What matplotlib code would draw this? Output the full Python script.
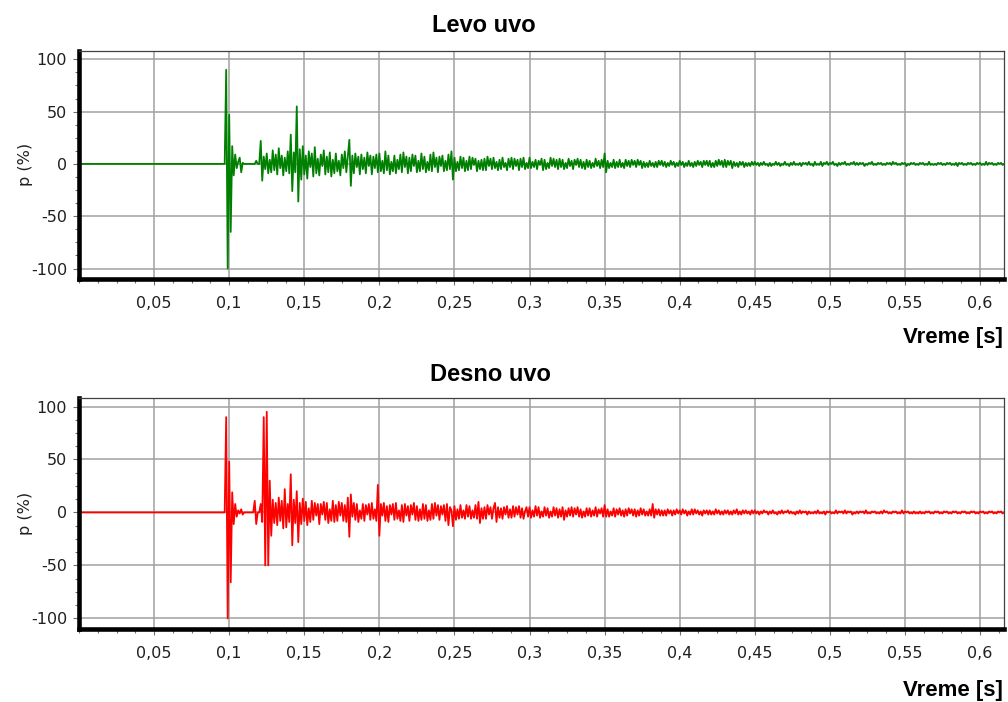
import numpy as np
import matplotlib
matplotlib.use("Agg")
import matplotlib.pyplot as plt
from matplotlib.ticker import MultipleLocator

# sampled pressure (%), one row = 10 ms, 1 ms step, starting at T0
T0 = 0.090
DT = 0.001

LEVO = [
    0, 0, 0, 0, 0, 0, 0, 0, 90, -100,
    47, -65, 17, -11, 9, -4, 2, 6, -8, 1,
    0, 0, 0, 0, 0, 0, 0, 0, 3, 0,
    0, 22, -16, 7, -5, 10, -9, 4, -8, 13,
    -6, 9, -10, 15, -4, 8, -11, 6, -7, 12,
    -9, 28, -26, 11, -8, 55, -36, 14, -15, 17,
    -10, 8, -14, 12, -3, 10, -12, 16, -9, 5,
    -11, 9, -2, 13, -10, 7, -8, 11, -12, 4,
    -9, 10, -7, 3, -11, 9, -4, 12, -8, 7,
    23, -21, 8, -9, 10, -3, 7, -10, 9, -5,
    6, -9, 11, -2, 8, -10, 7, -4, 9, -8,
    10, -7, 3, -9, 12, -6, 8, -10, 2, -7,
    8, -9, 4, -5, 9, -8, 11, -3, 7, -9,
    6, -7, 9, -2, 8, -8, 3, -7, 10, -5,
    7, -8, 2, -6, 9, -7, 11, -3, 6, -8,
    7, -2, 8, -7, 3, -6, 9, -5, 12, -15,
    6, -7, 2, -6, 7, -4, 6, -7, 3, -6,
    7, -5, 6, -1, 5, -7, 3, -5, 4, -6,
    5, -6, 7, -2, 5, -5, 6, -4, 2, -6,
    4, -5, 6, -3, 1, -6, 5, -3, 6, -5,
    5, -2, 4, -6, 5, -3, 6, -5, 1, -4,
    6, -4, 2, -3, 4, -5, 3, -1, 5, -6,
    4, -5, 1, -4, 6, -2, 5, -3, 4, -5,
    5, -3, 4, -5, 1, -4, 5, -2, 3, -5,
    4, -1, 5, -3, 4, -4, 2, -5, 4, -3,
    3, -4, 1, -3, 5, -2, 3, -4, 4, -3,
    10, -8, 3, -4, 1, -3, 4, -4, 2, -3,
    4, -3, 1, -4, 4, -2, 3, -3, 4, -1,
    3, -3, 4, -1, 3, -4, 2, -3, 1, -3,
    3, -2, 1, -3, 2, -3, 3, -1, 3, -2,
    2, -3, 1, -2, 3, -1, 2, -3, 1, -2,
    3, -1, 2, -3, 1, -2, 3, -2, 1, -3,
    2, -2, 3, -1, 2, -3, 3, -1, 3, -2,
    3, -3, 1, -3, 3, -2, 4, -1, 3, -3,
    4, -3, 3, -1, 3, -4, 2, -2, 1, -3,
    2, -1, 2, -3, 1, -2, 1, -2, 2, -1,
    2, -1, 1, -2, 1, -1, 2, -1, 0, -2,
    1, -2, 0, -1, 2, -1, 1, -2, 0, -1,
    2, -1, 0, -2, 1, -1, 2, -1, 0, -1,
    1, -2, 1, 0, 1, -1, 2, -1, 0, -2,
    2, -1, 0, -1, 2, -2, 1, 0, 2, -1,
    1, 0, 2, -1, 0, -2, 1, -1, 1, 0,
    2, -1, 0, -1, 1, 0, 2, -1, 1, -1,
    1, 0, 1, -2, 0, -1, 1, 0, 2, -1,
    0, -1, 1, 0, 1, -1, 0, -1, 1, 0,
    1, -1, 2, 0, 1, -1, 0, -1, 1, 0,
    1, -2, 0, -1, 1, 0, 1, -1, 0, -1,
    1, 0, 1, -1, 0, -1, 2, -1, 0, -1,
    0, -1, 1, 0, 1, -1, 0, -1, 1, 0,
    1, -1, 0, -1, 1, -2, 1, 0, 1, -1,
    0, -1, 1, 0, 1, -1, 0, -1, 1, 0,
    1, -1, 0, -1, 2, -1, 1, 0, 1, -1,
    0, -1, 1, 0, 1, -1, 0, -1, 1, 0,
]

DESNO = [
    0, 0, 0, 0, 0, 0, 0, 0, 90, -100,
    48, -66, 19, -11, 8, -4, 2, -1, 3, -2,
    0, 0, 0, 0, 0, 0, 0, 11, -11, 0,
    0, 8, -9, 90, -50, 95, -50, 30, -22, 12,
    -10, 9, -12, 14, -8, 11, -15, 22, -14, 8,
    -9, 36, -31, 12, -10, 20, -28, 9, -11, 13,
    -8, 10, -12, 4, -9, 11, -7, 9, -3, 8,
    -11, 8, -2, 10, -7, 9, -10, 3, -8, 11,
    -9, 7, -8, 10, -3, 9, -8, 7, -9, 14,
    -23, 17, -4, 9, -7, 8, -9, 2, -6, 8,
    -8, 7, -2, 8, -7, 9, -6, 3, -8, 26,
    -22, 8, -3, 9, -8, 6, -9, 7, -2, 8,
    -7, 9, -6, 2, -8, 7, -9, 8, -3, 6,
    -8, 7, -2, 9, -7, 6, -8, 3, -7, 8,
    -6, 7, -8, 2, -7, 8, -6, 9, -3, 7,
    -7, 6, -2, 7, -8, 8, -12, 5, 2, -13,
    6, -7, 3, -6, 7, -5, 2, -6, 7, -4,
    6, -6, 2, -5, 7, -6, 10, -10, 4, -6,
    5, -6, 7, -2, 5, -6, 4, 9, -9, 5,
    -5, 4, -6, 5, -2, 6, -5, 3, -5, 6,
    -4, 5, -2, 6, -5, 4, -6, 1, 5, -4,
    5, -5, 2, -4, 6, -3, 5, -5, 1, -4,
    5, -3, 4, -5, 1, -4, 5, -3, 4, -5,
    3, -4, 5, -7, 2, -4, 4, -3, 5, -4,
    4, -2, 5, -4, 3, -5, 1, -4, 4, -3,
    4, -4, 2, -3, 5, -4, 3, -1, 4, -4,
    7, -4, 3, -4, 1, -3, 4, -4, 3, -2,
    4, -3, 2, -4, 3, -3, 4, -1, 3, -3,
    3, -4, 2, -3, 4, -2, 3, -3, 1, -3,
    3, -3, 8, -5, 3, -2, 3, -3, 2, -3,
    2, -3, 3, -1, 2, -3, 2, -2, 3, -1,
    2, -2, 3, -1, 2, -3, 1, -2, 3, -2,
    3, -1, 2, -2, 1, -3, 2, -1, 2, -2,
    2, -2, 1, -2, 3, -1, 2, -2, 1, -2,
    2, -1, 2, -2, 1, -2, 2, -1, 3, -2,
    1, -2, 2, -1, 2, -1, 1, -2, 2, -1,
    2, -1, 1, -2, 1, -1, 2, 0, 1, -2,
    1, -1, 2, -1, 0, -2, 1, -1, 2, -1,
    1, 0, 2, -1, 1, -1, 0, -2, 1, -1,
    2, -1, 1, 0, 1, -2, 1, -1, 0, -1,
    1, -1, 2, -1, 0, -1, 1, -2, 1, 0,
    1, -1, 0, -1, 2, -1, 1, 0, 1, -1,
    2, -1, 1, 0, 1, -2, 0, -1, 1, -1,
    1, 0, 1, -1, 2, -1, 0, -1, 1, 0,
    1, -1, 0, -1, 1, -1, 2, 0, 1, -1,
    0, -1, 1, 0, 1, -1, 0, -1, 2, -1,
    1, 0, 1, -1, 0, -1, 1, -1, 0, -1,
    1, -1, 0, -1, 1, 0, 1, -1, 0, -1,
    1, 0, 1, -1, 0, -1, 1, 0, 1, -1,
    0, -1, 1, 0, 1, -1, 0, -1, 1, 0,
    1, -1, 0, -1, 1, 0, 1, -1, 0, -1,
    1, 0, 1, -1, 0, -1, 1, 0, 1, -1,
    0, -1, 1, 0, 1, -1, 0, -1, 1, 0,
]

XTICKS = [0.05, 0.1, 0.15, 0.2, 0.25, 0.3, 0.35, 0.4, 0.45, 0.5, 0.55, 0.6]
XLABELS = ["0,05", "0,1", "0,15", "0,2", "0,25", "0,3", "0,35", "0,4",
           "0,45", "0,5", "0,55", "0,6"]
YTICKS = [-100, -50, 0, 50, 100]
YLABELS = ["-100", "-50", "0", "50", "100"]

TITLES = ["Levo uvo", "Desno uvo"]
COLORS = ["#008000", "#ff0000"]


def series(vals):
    t = T0 + DT * np.arange(len(vals))
    return np.concatenate([[0.0], t]), np.concatenate([[0.0], np.asarray(vals, float)])


def style(ax):
    ax.set_xlim(0, 0.616)
    ax.set_ylim(-110, 108)
    ax.set_xticks(XTICKS)
    ax.set_xticklabels(XLABELS)
    ax.set_yticks(YTICKS)
    ax.set_yticklabels(YLABELS)
    ax.xaxis.set_minor_locator(MultipleLocator(0.0125))
    ax.yaxis.set_minor_locator(MultipleLocator(12.5))
    ax.grid(True, which="major", color="#a0a0a0", linewidth=1.1)
    ax.set_axisbelow(True)
    for s in ("left", "bottom"):
        ax.spines[s].set_linewidth(3.3)
        ax.spines[s].set_color("black")
    for s in ("top", "right"):
        ax.spines[s].set_linewidth(0.9)
        ax.spines[s].set_color("#404040")
    ax.tick_params(which="major", length=4, width=0.8, color="#707070",
                   labelsize=11.5, labelcolor="#202020")
    ax.tick_params(axis="x", which="major", pad=8)
    ax.tick_params(axis="y", which="major", pad=4.5)
    ax.tick_params(which="minor", length=3, width=0.8, color="#707070")
    for lab in ax.get_xticklabels() + ax.get_yticklabels():
        lab.set_family("DejaVu Sans")


fig = plt.figure(figsize=(10.08, 7.02), dpi=100)
ax1 = fig.add_axes([0.0784, 0.6026, 0.9177, 0.3248])
ax2 = fig.add_axes([0.0784, 0.1040, 0.9177, 0.3290])

for ax, vals, col in zip((ax1, ax2), (LEVO, DESNO), COLORS):
    t, p = series(vals)
    ax.plot(t, p, color=col, linewidth=1.3)
    style(ax)

title_pos = [(0.480, 0.964), (0.487, 0.466)]
ylab_y = [0.766, 0.268]
xlab_y = [0.519, 0.017]
for i in range(2):
    fig.text(title_pos[i][0], title_pos[i][1], TITLES[i], ha="center", va="center",
             family="Liberation Sans", weight="bold", fontsize=17)
    fig.text(0.025, ylab_y[i], "p (%)", rotation=90, ha="center", va="center",
             family="DejaVu Sans", fontsize=11.5, color="#202020")
    fig.text(0.995, xlab_y[i], "Vreme [s]", ha="right", va="center",
             family="Liberation Sans", weight="bold", fontsize=16)

fig.savefig("out.png", dpi=100)
